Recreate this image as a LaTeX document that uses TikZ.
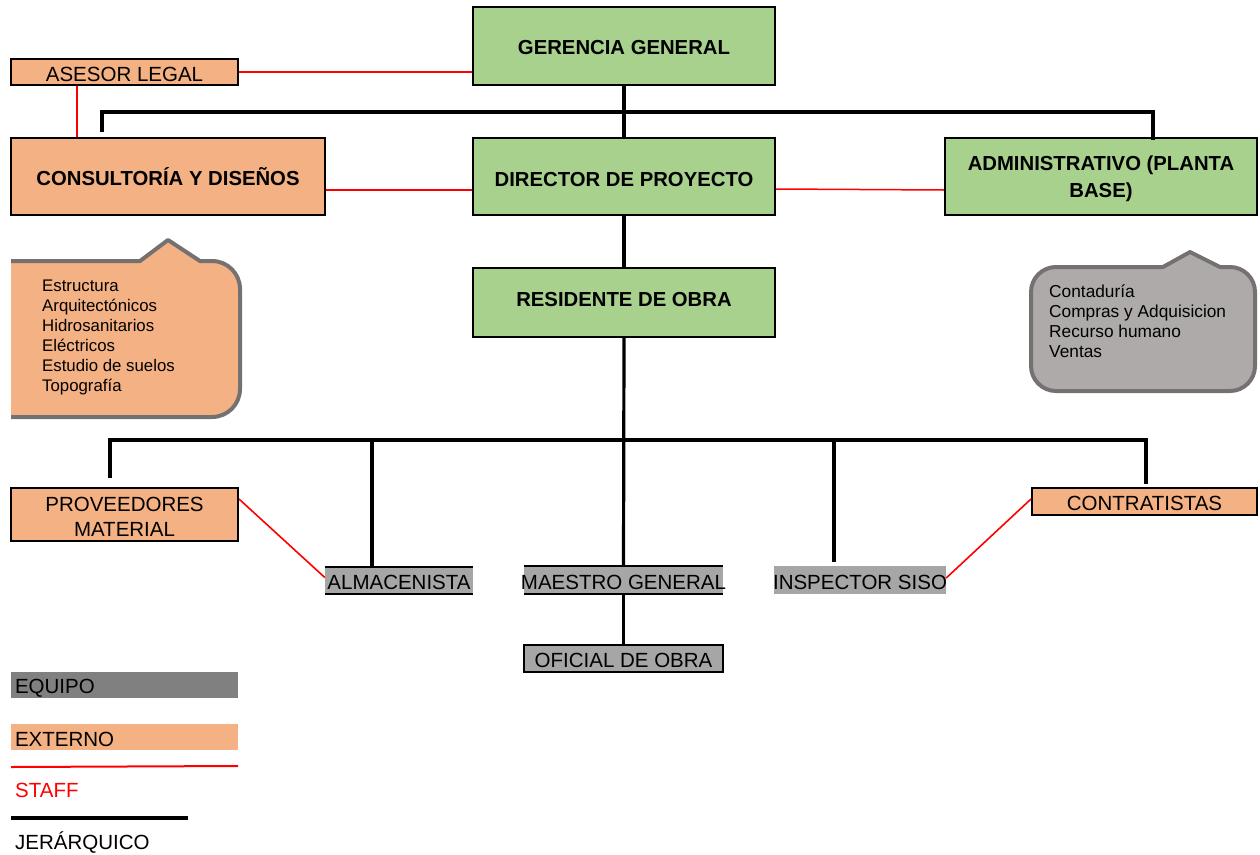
\documentclass[tikz,border=0pt]{standalone}
\usepackage{fontspec}
\setmainfont{Liberation Sans}
\usetikzlibrary{calc}
\definecolor{verde}{HTML}{A9D18E}
\definecolor{salmon}{HTML}{F4B183}
\definecolor{grisbox}{HTML}{A6A6A6}
\definecolor{grisleg}{HTML}{808080}
\definecolor{grisnube}{HTML}{AEAAAA}
\definecolor{bordenube}{HTML}{767171}
\definecolor{rojo}{HTML}{FF0000}
\begin{document}
\begin{tikzpicture}[x=1pt,y=-1pt,
  box/.style={draw=black, line width=2pt, inner sep=0pt, align=center},
  mando/.style={box, fill=verde, text height=18.5pt, font=\fontsize{20.3}{27}\selectfont\bfseries},
  externo/.style={box, fill=salmon, text height=18.7pt, font=\fontsize{20.5}{25}\selectfont},
  equipo/.style={fill=grisbox, inner sep=0pt, text height=18.7pt, font=\fontsize{20.5}{25}\selectfont},
  leyenda/.style={inner sep=0pt, text height=18.7pt, font=\fontsize{20.5}{25}\selectfont},
  lista/.style={inner sep=0pt, align=left, anchor=north west, font=\fontsize{16.8}{20}\selectfont},
  nube/.style={line width=4pt, draw=bordenube, line join=round},
  hier/.style={line width=3.2pt, black},
  staff/.style={line width=2pt, rojo}]
\useasboundingbox (0,0) rectangle (1260,854);

% ---- main boxes ----
\node[mando, text height=16.5pt, minimum width=302pt, minimum height=78pt] (gg) at (624,46) {GERENCIA GENERAL};
\node[externo, minimum width=227pt, minimum height=26pt] (al) at (124.5,72) {ASESOR LEGAL};
\node[box, fill=salmon, font=\fontsize{20.3}{25}\selectfont\bfseries, minimum width=314pt, minimum height=77pt] (cd) at (168,176.5) {CONSULTORÍA Y DISEÑOS};
\node[mando, text height=20.5pt, minimum width=302pt, minimum height=77pt] (dp) at (624,176.5) {DIRECTOR DE PROYECTO};
\node[mando, text height=46.5pt, minimum width=312pt, minimum height=77pt] (adm) at (1101,176.5) {ADMINISTRATIVO (PLANTA\\BASE)};
\node[mando, text height=8.5pt, minimum width=302pt, minimum height=69pt] (ro) at (624,302.5) {RESIDENTE DE OBRA};

% ---- lower level ----
\node[externo, text height=43.7pt, minimum width=227pt, minimum height=53pt] (pm) at (124.5,514.5) {PROVEEDORES\\MATERIAL};
\node[externo, minimum width=225pt, minimum height=27pt] (ct) at (1144.5,501.5) {CONTRATISTAS};
\node[equipo, minimum width=148pt, minimum height=27pt] (alm) at (399,580.5) {\makebox[0pt]{ALMACENISTA}};
\node[equipo, minimum width=199pt, minimum height=28pt] (mg) at (623.5,580) {\makebox[0pt]{MAESTRO GENERAL}};
\node[equipo, minimum width=172pt, minimum height=28pt] (is) at (860,580) {\makebox[0pt]{INSPECTOR SISO}};
\node[equipo, draw=black, line width=2pt, minimum width=199pt, minimum height=27pt] (of) at (623.5,658.5) {\makebox[0pt]{OFICIAL DE OBRA}};
\draw[line width=2.5pt] (alm.north west) -- (alm.north east);
\draw[line width=1.5pt] (alm.south west) -- (alm.south east);
\draw[line width=2.5pt] (mg.north west) -- (mg.north east);
\draw[line width=2pt] (mg.south west) -- (mg.south east);

% ---- hierarchical lines ----
\coordinate (busA) at (624,112);
\coordinate (dropC) at (102,130);
\coordinate (dropAdm) at (1153,138);
\coordinate (busB) at (624,440);
\coordinate (dropP) at (110,478);
\coordinate (dropCt) at (1146,484);
\coordinate (dropA) at (372,440);
\coordinate (dropI) at (834,440);
\coordinate (endI) at (834,562);
\draw[hier] (gg.south) -- (dp.north);
\draw[hier, line cap=rect] (dropC) |- (busA) -| (dropAdm);
\draw[hier, line width=3.8pt] (dp.south) -- (ro.north);
\draw[hier] (ro.south) -- (mg.north);
\draw[hier] (dropP) |- (busB) -| (dropCt);
\draw[hier] (dropA) -- (dropA |- alm.north);
\draw[hier] (dropI) -- (endI);
\draw[hier] (mg.south) -- (of.north);

% ---- staff lines ----
\draw[staff] (al.east) -- (al.east -| gg.west);
\draw[staff] ([xshift=67pt]al.south west) -- ([xshift=67pt]cd.north west);
\draw[staff] ([yshift=-13.5pt]cd.east) -- ([yshift=-13.5pt]cd.east -| dp.west);
\draw[staff, line width=1.5pt] ([yshift=-12.5pt]dp.east) -- ([yshift=-13.5pt]adm.west);
\draw[staff, line width=1.6pt] ([yshift=-12pt]pm.north east) -- ([yshift=3pt]alm.west);
\draw[staff, line width=1.6pt] ([yshift=-12pt]ct.north west) -- ([yshift=2pt]is.east);

% ---- callout: design specialties ----
\begin{scope}
  \clip (11,200) rectangle (300,440);
  \draw[nube, fill=salmon] (0,261) -- (140,261) -- (168,240) -- (200,261) -- (212,261)
    .. controls (227.5,261) and (240,273.5) .. (240,289) -- (240,389)
    .. controls (240,404.5) and (227.5,417) .. (212,417) -- (0,417);
\end{scope}
\node[lista] (esp) at (42,280) {Estructura\\Arquitectónicos\\Hidrosanitarios\\Eléctricos\\Estudio de suelos\\Topografía};

% ---- callout: administrative areas ----
\draw[nube, fill=grisnube] (1163,267) -- (1190,252) -- (1220,267) -- (1230,267)
  .. controls (1243.8,267) and (1255,278.2) .. (1255,292) -- (1255,366)
  .. controls (1255,379.8) and (1243.8,391) .. (1230,391) -- (1056,391)
  .. controls (1042.2,391) and (1031,379.8) .. (1031,366) -- (1031,292)
  .. controls (1031,278.2) and (1042.2,267) .. (1056,267) -- cycle;
\node[lista, font=\fontsize{17.3}{20}\selectfont] (areas) at (1049,284.5) {Contaduría\\Compras y Adquisicion\\Recurso humano\\Ventas};

% ---- legend ----
\node[leyenda, text height=20.5pt, fill=grisleg, minimum width=227pt, minimum height=26pt] (leq) at (124.5,685) {\makebox[219pt][l]{EQUIPO}};
\node[leyenda, fill=salmon, minimum width=227pt, minimum height=26pt] (lex) at (124.5,737) {\makebox[219pt][l]{EXTERNO}};
\draw[staff] (11,767) -- (238,766);
\node[leyenda, text height=14.7pt, anchor=west, text=rojo] (lst) at (15,790) {STAFF};
\draw[hier] (11,818) -- (188,818);
\node[leyenda, anchor=west] (lje) at (15,842) {JERÁRQUICO};
\end{tikzpicture}
\end{document}
